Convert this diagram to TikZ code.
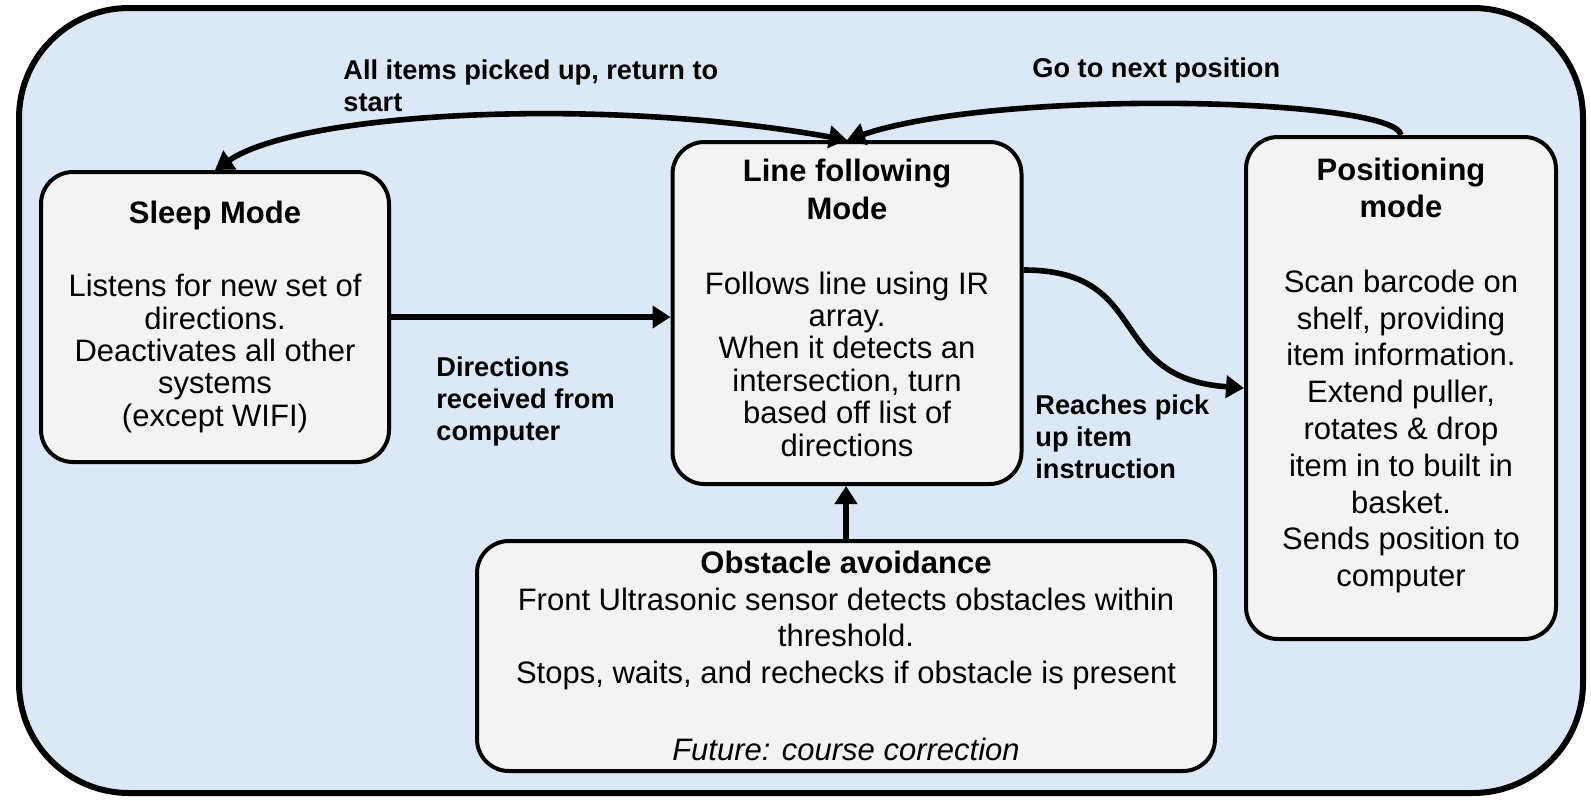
\documentclass[tikz,border=0pt]{standalone}
\usepackage{fontspec}
\setmainfont{Liberation Sans}
\usetikzlibrary{arrows.meta,calc}
\definecolor{panelblue}{RGB}{220,232,245}
\definecolor{modegray}{RGB}{243,243,243}
\tikzset{head/.tip={Triangle[length=9pt,width=11pt]},
  mode/.style={rectangle,rounded corners=16pt,draw,line width=2pt,fill=modegray,align=center,inner sep=0pt,font=\fontsize{15.5}{16.2}\selectfont},
  lbl/.style={anchor=north west,align=left,inner sep=0pt,font=\fontsize{13.6}{16.2}\selectfont\bfseries},
  arr/.style={line width=2.8pt,-head},
  arrboth/.style={line width=2.8pt,head-head}}

\begin{document}
\begin{tikzpicture}[x=0.5pt,y=-0.5pt]
    \useasboundingbox (0,0) rectangle (1591,800);
    \draw[line width=3pt,fill=panelblue,rounded corners=55pt] (19,8) rectangle (1583,793);

    \node[mode,minimum width=174pt,minimum height=145pt] (sleep) at (215,317)
        {\textbf{Sleep Mode}\\[20.3pt]Listens for new set of\\directions.\\Deactivates all other\\systems\\(except WIFI)};
    \node[mode,minimum width=174.5pt,minimum height=171pt] (lf) at (847,313)
        {\parbox[c][154pt][t]{170pt}{\centering\fontsize{15.5}{16.2}\selectfont
        \textbf{Line following}\\[2.6pt]\textbf{Mode}\\[21.3pt]Follows line using IR\\array.\\When it detects an\\intersection, turn\\based off list of\\directions}};
    \node[mode,minimum width=155pt,minimum height=251pt] (pos) at (1401,388)
        {\parbox[c][230pt][t]{150pt}{\centering\fontsize{15.5}{18.4}\selectfont
        \textbf{Positioning}\\\textbf{mode}\\[19.1pt]Scan barcode on\\shelf, providing\\item information.\\Extend puller,\\rotates \& drop\\item in to built in\\basket.\\Sends position to\\computer}};
    \node[mode,minimum width=369pt,minimum height=115pt,font=\fontsize{15.5}{18.3}\selectfont] (obs) at (846,656)
        {\textbf{Obstacle avoidance}\\Front Ultrasonic sensor detects obstacles within\\threshold.\\Stops, waits, and rechecks if obstacle is present\\[20.3pt]\textit{Future: course correction}};

    \node[lbl] (backlbl) at (343,59) {All items picked up, return to\\start};
    \node[lbl] (nextlbl) at (1032,57) {Go to next position};
    \node[lbl] (dirlbl) at (436,356) {Directions\\received from\\computer};
    \node[lbl] (picklbl) at (1035,394) {Reaches pick\\up item\\instruction};

    \draw[arr] (sleep.east) -- (sleep.east -| lf.west);
    \draw[arr] ($(lf.east)+(0,-43)$) .. controls +(130,0) and +(-140,-10) .. (pos.west);
    \draw[arr] (obs.north) -- (obs.north |- lf.south);
    \draw[arrboth] (sleep.north) .. controls +(85,-58) and +(-247,-44) .. (lf.north);
    \draw[arr] (pos.north) .. controls +(-6,-37) and +(153,-52) .. (lf.north);
\end{tikzpicture}
\end{document}
